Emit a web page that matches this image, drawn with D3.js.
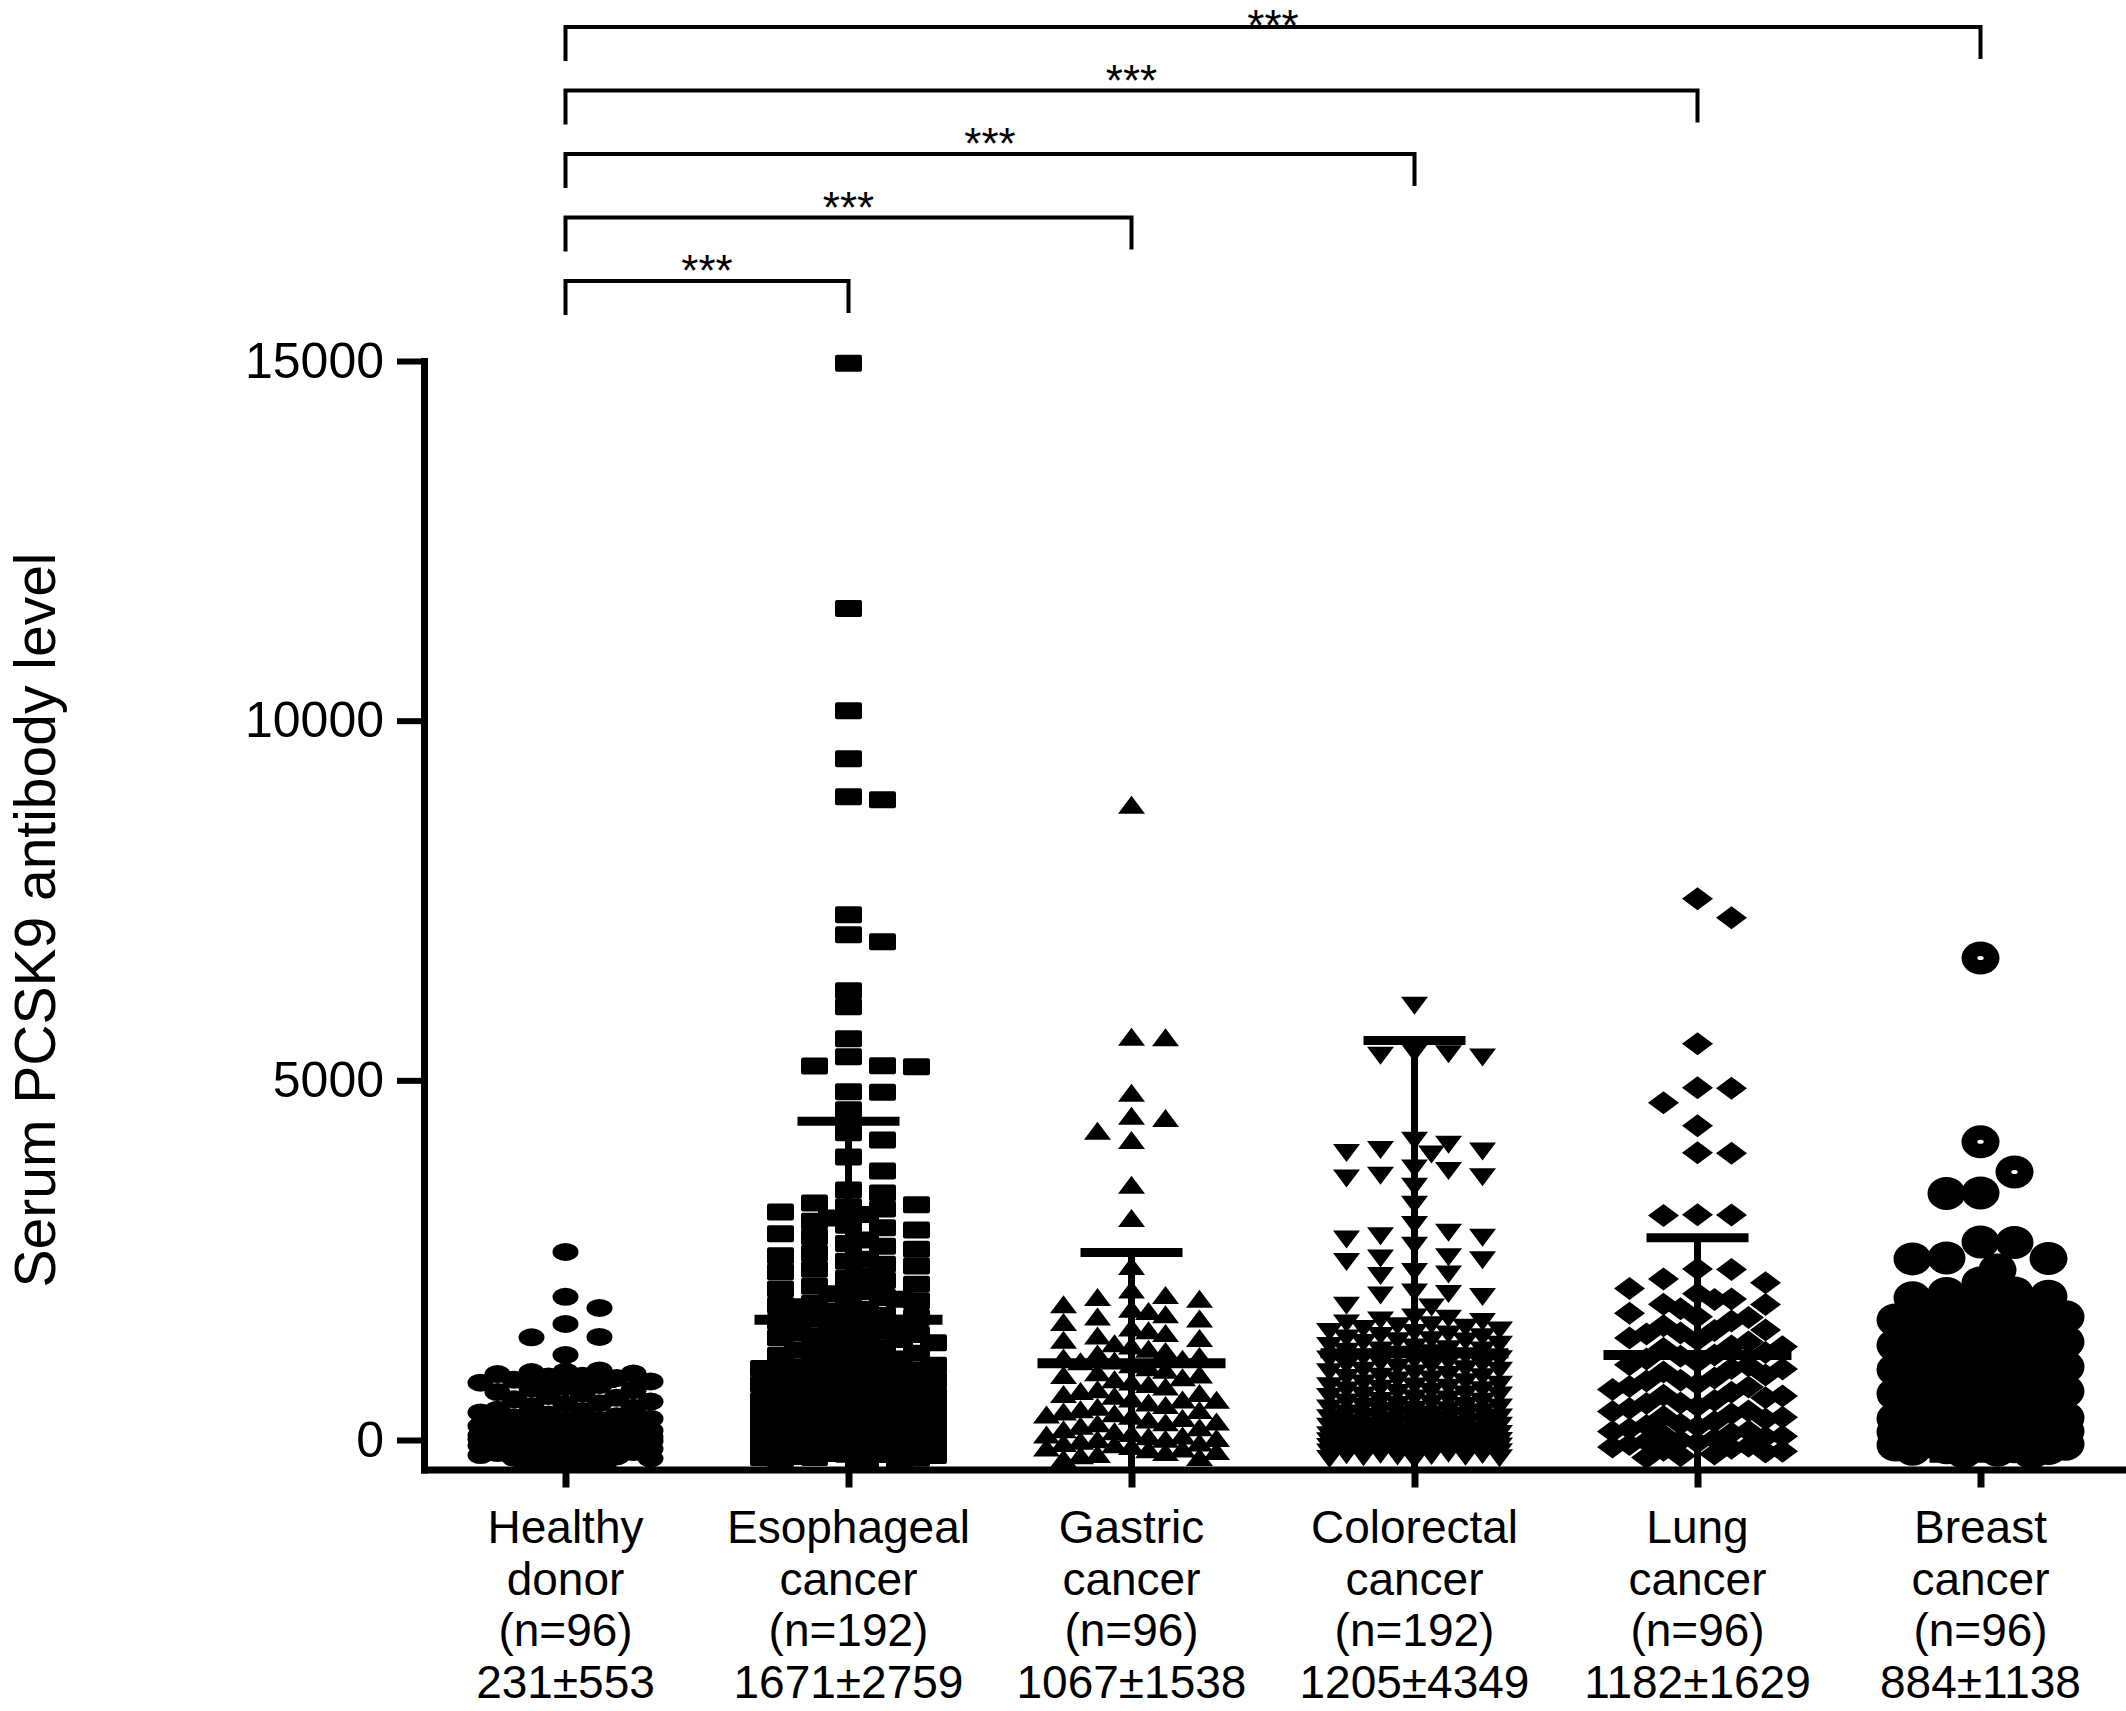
<!DOCTYPE html>
<html>
<head>
<meta charset="utf-8">
<title>Serum PCSK9 antibody level</title>
<script src="https://d3js.org/d3.v7.min.js"></script>
<style>
  body { margin: 0; background: #fff; }
  svg text { font-family: "Liberation Sans", Arial, sans-serif; fill: #000; }
</style>
</head>
<body>
<div id="chart"></div>
<script>
// groups, label lines and summary stats as printed under the axis
const categories = ["Healthy donor", "Esophageal cancer", "Gastric cancer", "Colorectal cancer", "Lung cancer", "Breast cancer"];
const nameLine1 = ["Healthy", "Esophageal", "Gastric", "Colorectal", "Lung", "Breast"];
const nameLine2 = ["donor", "cancer", "cancer", "cancer", "cancer", "cancer"];
const nCounts = [96, 192, 96, 192, 96, 96];
const means = [231, 1671, 1067, 1205, 1182, 884];
const sds = [553, 2759, 1538, 4349, 1629, 1138];
const yTicks = [0, 5000, 10000, 15000];

// significance brackets: [from, to] category index
const comparisons = [[0, 1], [0, 2], [0, 3], [0, 4], [0, 5]];
const sigLabels = ["***", "***", "***", "***", "***"];

// individual values (dense parts estimated)
const healthy = [2615, 1990, 1836, 1613, 1433, 1428, 1182,
  968, 951, 944, 926, 917, 893, 884, 861, 838, 815, 797, 764, 742, 718, 693, 667, 648, 611, 587, 566,
  534, 512, 497, 473, 448, 421, 404, 383, 356, 331, 318, 297, 276, 254, 233, 214, 196, 172, 157, 133,
  118, 97, 88, 76, 63, 52, 41, 33, 24, 16, 8, 3, 92, 61, 29, 11, -4, -13, -27, -38, -56, -71, -84, -97,
  -22, -49, -77, -108, -122, -143, -158, -181, -196, -134, -167, -209, -228, -247, -266, -279, -218, -255,
  18, 44, 69, 124, 163, 205, 262];

const esophageal = [14970, 11558, 10139, 9471, 8943, 8901, 7302, 7024, 6926, 6245, 6022, 5577, 5327,
  5202, 5198, 5190, 4840, 4836, 4590, 4270, 4172, 3936, 3741, 3477, 3435,
  3296, 3271, 3244, 3213, 3169, 3135, 3088, 3042,
  2987, 2951, 2918, 2866, 2823, 2779, 2731, 2694, 2652, 2597, 2561, 2514,
  2486, 2443, 2418, 2375, 2338, 2284, 2247, 2219, 2166, 2137, 2098, 2063, 2034, 2007,
  1982, 1957, 1934, 1896, 1873, 1851, 1817, 1794, 1758, 1736, 1702, 1677, 1649, 1623, 1596, 1558, 1537, 1512,
  1493, 1468, 1446, 1423, 1398, 1377, 1352, 1326, 1304, 1283, 1254, 1227, 1205, 1178, 1156, 1127, 1104,
  1083, 1061, 1038, 1019, 1003,
  994, 968, 953, 927, 912, 886, 868, 853, 827, 806, 788, 774, 748, 727, 713, 688, 671, 647, 628, 613,
  586, 572, 548, 533, 514, 502,
  493, 478, 466, 447, 433, 418, 407, 388, 373, 362, 341, 328, 316, 297, 288, 267, 253, 238, 227, 206,
  194, 178, 163, 152, 133, 121, 102, 93, 74, 58, 47, 32, 21, 14, 7, 1,
  -6, -17, -24, -36, -43, -57, -68, -73, -86, -94, -107, -113, -128, -137, -149, -162, -171, -188, -203,
  -216, -231, -244, -253, -262, -271, -278, -247, -198, -152, -99, -48];

const gastric = [8832, 5605, 5598, 4826, 4506, 4478, 4298, 4172, 3547, 3088, 2420,
  2093, 2017, 1989, 1962, 1887, 1826, 1793, 1748, 1716, 1688, 1641, 1563, 1527, 1488, 1452, 1419, 1394,
  1346, 1313, 1268, 1236, 1203, 1167, 1128, 1094, 1052, 1013, 978, 943, 912, 874, 846, 812, 779, 743,
  706, 683, 652, 614, 577, 558, 523, 487, 463, 428, 396, 372, 338, 307, 286, 258, 233, 197, 176, 148,
  123, 97, 78, 51, 27, 9, -12, -33, -58, -83, -104, -127, -153, -168, -193, -212, -236, -258,
  641, 353, 18, 903, 1104, -41, 248, 562, 1147, -118, 417, 63];

const colorectal = [6036, 5380, 5362, 5341, 5318, 4160, 4104, 4033, 4012, 3991, 3968, 3773, 3741,
  3672, 3654, 3637, 3520, 3270, 2990, 2880, 2833, 2812, 2789, 2702, 2541, 2522, 2498, 2476, 2334, 2301,
  2279, 2052, 2031, 2008, 1987, 1868, 1841, 1703, 1684, 1661, 1642, 1619,
  1597, 1583, 1562, 1544, 1521, 1503, 1488, 1467, 1446, 1428, 1412, 1388, 1369, 1347, 1323, 1307, 1286,
  1262, 1244, 1228, 1207, 1186, 1163, 1142, 1123, 1101, 1082, 1063, 1041, 1022, 1004, 983, 962, 941,
  923, 902, 881, 863, 842, 827, 803, 786, 768, 747, 728, 712, 693, 671, 652, 634, 617, 598, 578, 563,
  542, 523, 507, 488, 472, 453, 437, 422, 403, 387, 368, 353, 338, 322, 304, 287, 273, 258, 243, 227,
  213, 198, 183, 168, 152, 137, 123, 108, 96, 82, 67, 54, 43, 31, 19, 8, 2, -7, -14, -23, -31, -42,
  -53, -61, -72, -78, -89, -97, -108, -117, -126, -138, -146, -157, -163, -174, -183, -191, -204, -213,
  -222, -234, -241, -252, -263, -276, 412, 356, 291, 238, 177, 129, 84, 36, -18, -66, -112, -169, -228,
  533, 617, 688, 743, 871, 962, 1036, 1118, 1243, 1374, 466, 312, 203, 58, -38, -131, -207];

const lung = [7524, 7260, 5508, 4896, 4889, 4687, 4367, 3992, 3986, 3130, 3127, 3121,
  2378, 2372, 2240, 2187, 2106, 1960, 1954, 1883, 1826, 1762, 1704, 1653, 1587, 1530, 1524, 1472, 1418,
  1363, 1306, 1272, 1218, 1164, 1127, 1083, 1034, 988, 947, 903, 862, 821, 778, 736, 702, 663, 621, 587,
  548, 506, 471, 437, 398, 366, 327, 293, 258, 221, 187, 156, 124, 96, 68, 41, 17, -8, -34, -61, -87,
  -113, -142, -167, -193, -218, -242, 1486, 1298, 1047, 832, 612, 402, 203, 52, -97, -156, 2033, 1887,
  1712, 1392, 1183, 994, 743, 513, 316, 118, -21];

const breast = [6700, 4145, 3727, 3435, 3428, 2754, 2747, 2531, 2524, 2518, 2364, 2184, 2045, 2038, 1998, 1976,
  1893, 1861, 1822, 1784, 1743, 1712, 1668, 1627, 1589, 1547, 1513, 1476, 1438, 1394, 1362, 1317, 1283,
  1246, 1207, 1168, 1131, 1092, 1053, 1017, 978, 941, 903, 867, 828, 791, 753, 716, 678, 642, 603, 568,
  531, 493, 457, 418, 382, 346, 307, 268, 232, 196, 157, 121, 84, 47, 12, -23, -58, -94, -127, -163,
  -176, -141, -106, -71, -36, 3, 38, 76, 112, 147, 186, 223, 261, 298, 1412, 1186, 962, 736, 512, 287,
  64, -118, 1623, 1054];

const groupValues = [healthy, esophageal, gastric, colorectal, lung, breast];

// ---- layout ----
const W = 2126, H = 1711;
const axisLeftX = 424, axisRightX = 2122;
const yMin = -410;

const svg = d3.select("#chart").append("svg")
  .attr("width", W).attr("height", H)
  .attr("viewBox", `0 0 ${W} ${H}`);

const x = d3.scalePoint().domain(categories).range([axisLeftX, axisRightX]).padding(0.5);
const y = d3.scaleLinear().domain([yMin, 15000]).range([1469.5, 361]);

// marker look per group
const markers = [
  { shape: "ellipse", w: 26, h: 18 },
  { shape: "square", w: 27, h: 17 },
  { shape: "triUp", w: 27, h: 18 },
  { shape: "triDown", w: 27, h: 18 },
  { shape: "diamond", w: 31, h: 23 },
  { shape: "circle", w: 38, h: 33 }
];
const colStep = 34;

// GraphPad-like column scatter: points go to the nearest free column,
// dense stretches spill into half columns and finally overlap
function layoutGroup(values, cx, mh) {
  const full = [0, 1, -1, 2, -2];
  const half = [0.5, -0.5, 1.5, -1.5, 2.5, -2.5];
  const placed = [];
  return values.slice().sort((a, b) => b - a).map(v => {
    const py = y(v);
    const gap = o => {
      const d = d3.min(placed.filter(p => p.off === o), p => Math.abs(p.y - py));
      return d === undefined ? Infinity : d;
    };
    let off = full.find(o => gap(o) >= mh * 0.92);
    if (off === undefined) off = half.find(o => gap(o) >= mh * 0.92);
    if (off === undefined) {
      off = full.concat(half).reduce((best, o) => gap(o) > gap(best) ? o : best, 0);
    }
    placed.push({ off: off, y: py });
    return { v: v, x: cx + off * colStep, y: py };
  });
}

const pointsLayer = svg.append("g");
groupValues.forEach((vals, i) => {
  const m = markers[i];
  const pts = layoutGroup(vals, x(categories[i]), m.h);
  const g = pointsLayer.append("g");
  const sel = g.selectAll("g").data(pts).enter().append("g")
    .attr("transform", d => `translate(${d.x},${d.y})`);
  const hw = m.w / 2, hh = m.h / 2;
  if (m.shape === "ellipse" || m.shape === "circle") {
    sel.append("ellipse").attr("rx", hw).attr("ry", hh).attr("fill", "#000");
    if (m.shape === "circle") {
      // the small light centre only shows where a symbol stands on its own
      const alone = d => !pts.some(o => o !== d && Math.abs(o.x - d.x) < 36 && Math.abs(o.y - d.y) < 20);
      sel.filter(alone).append("ellipse").attr("rx", 3.2).attr("ry", 2).attr("fill", "#fff");
    }
  } else if (m.shape === "square") {
    sel.append("rect").attr("x", -hw).attr("y", -hh).attr("width", m.w).attr("height", m.h)
      .attr("rx", 2).attr("fill", "#000");
  } else {
    let p;
    if (m.shape === "triUp") p = `M0,${-hh}L${hw},${hh}L${-hw},${hh}Z`;
    else if (m.shape === "triDown") p = `M0,${hh}L${hw},${-hh}L${-hw},${-hh}Z`;
    else p = `M0,${-hh}L${hw},0L0,${hh}L${-hw},0Z`;
    sel.append("path").attr("d", p).attr("fill", "#000");
  }
});

// mean and SD bars
const bars = svg.append("g").attr("stroke", "#000");
categories.forEach((c, i) => {
  const cx = x(c);
  const top = means[i] + sds[i];
  const low = Math.max(means[i] - sds[i], yMin);
  bars.append("line").attr("x1", cx).attr("x2", cx)
    .attr("y1", y(top)).attr("y2", y(low)).attr("stroke-width", 7);
  bars.append("line").attr("x1", cx - 51).attr("x2", cx + 51)
    .attr("y1", y(top)).attr("y2", y(top)).attr("stroke-width", 9);
  if (means[i] - sds[i] > yMin) {
    bars.append("line").attr("x1", cx - 51).attr("x2", cx + 51)
      .attr("y1", y(low)).attr("y2", y(low)).attr("stroke-width", 9);
  }
  bars.append("line").attr("x1", cx - 94).attr("x2", cx + 94)
    .attr("y1", y(means[i])).attr("y2", y(means[i])).attr("stroke-width", 10);
});

// axes
const yAxis = svg.append("g")
  .attr("transform", `translate(${axisLeftX},0)`)
  .call(d3.axisLeft(y).tickValues(yTicks).tickFormat(d3.format("d"))
    .tickSize(27).tickSizeOuter(0).tickPadding(13));
yAxis.select(".domain").attr("stroke-width", 7).attr("stroke-linecap", "square");
yAxis.selectAll(".tick line").attr("stroke-width", 6);
yAxis.selectAll(".tick text").attr("font-size", 50)
  .attr("font-family", "'Liberation Sans', Arial, sans-serif");

const xAxis = svg.append("g")
  .attr("transform", `translate(0,${y(yMin)})`)
  .call(d3.axisBottom(x).tickSize(18).tickSizeOuter(0).tickFormat(""));
xAxis.select(".domain").attr("stroke-width", 7).attr("stroke-linecap", "square");
xAxis.selectAll(".tick line").attr("stroke-width", 7);

// category labels, four lines each
const catLabels = svg.append("g").attr("font-size", 46).attr("text-anchor", "middle");
categories.forEach((c, i) => {
  const lines = [nameLine1[i], nameLine2[i], `(n=${nCounts[i]})`, `${means[i]}\u00b1${sds[i]}`];
  const t = catLabels.append("text").attr("x", x(c)).attr("y", 1543);
  lines.forEach((s, k) => {
    t.append("tspan").attr("x", x(c)).attr("dy", k === 0 ? 0 : 51.5).text(s);
  });
});

// y title
svg.append("text")
  .attr("transform", "translate(55,920) rotate(-90)")
  .attr("text-anchor", "middle")
  .attr("font-size", 57)
  .text("Serum PCSK9 antibody level");

// significance brackets
const br = svg.append("g");
comparisons.forEach((pair, i) => {
  const x1 = x(categories[pair[0]]), x2 = x(categories[pair[1]]);
  const by = 281 - i * 63.5;
  br.append("path")
    .attr("d", `M${x1},${by + 34}V${by}H${x2}V${by + 32}`)
    .attr("fill", "none").attr("stroke", "#000").attr("stroke-width", 4);
  br.append("text")
    .attr("x", (x1 + x2) / 2).attr("y", Math.max(by + 5, 41))
    .attr("text-anchor", "middle").attr("font-size", 44)
    .text(sigLabels[i]);
});
</script>
</body>
</html>
